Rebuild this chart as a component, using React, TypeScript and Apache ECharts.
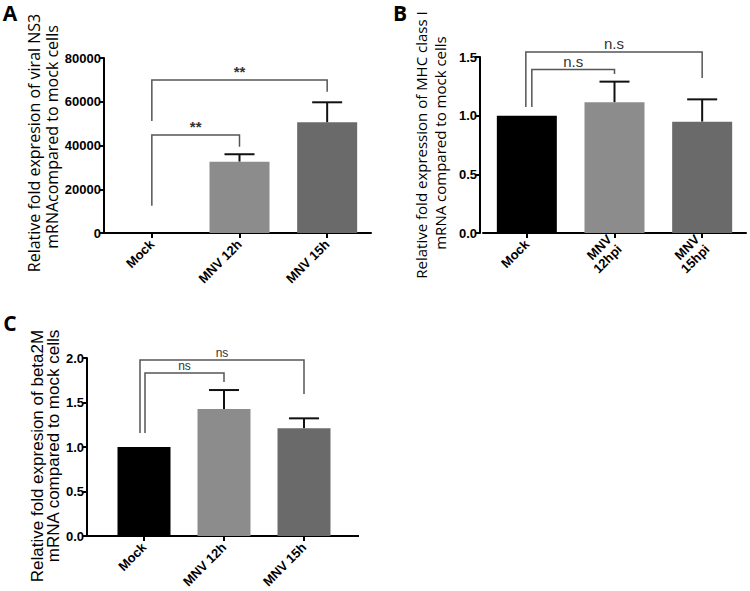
import React, { useEffect, useRef } from "react";
import * as echarts from "echarts";

// ---- Data ----
const categoriesA = ["Mock", "MNV 12h", "MNV 15h"];
const valuesA = [1, 32600, 50600];
const errorsA = [0, 3400, 9150];

const categoriesB = ["Mock", "MNV\n12hpi", "MNV\n15hpi"];
const valuesB = [1.0, 1.114, 0.949];
const errorsB = [0, 0.176, 0.19];

const categoriesC = ["Mock", "MNV 12h", "MNV 15h"];
const valuesC = [1.0, 1.427, 1.21];
const errorsC = [0, 0.213, 0.112];

const barColors = ["#000000", "#8c8c8c", "#6a6a6a"];

// brackets: [fromIndex, toIndex, topValue, leftBottomValue, rightBottomValue]
const bracketsA = [
  [0, 1, 44800, 12480, 39450],
  [0, 2, 69943, 51200, 64594],
];
const bracketLabelsA = ["**", "**"];
const bracketsB = [
  [0, 1, 1.393, 1.074, 1.355],
  [0, 2, 1.543, 1.074, 1.321],
];
const bracketLabelsB = ["n.s", "n.s"];
const bracketsC = [
  [0, 1, 1.831, 1.157, 1.73],
  [0, 2, 1.978, 1.157, 1.595],
];
const bracketLabelsC = ["ns", "ns"];

const yTicksB = ["0.0", "0.5", "1.0", "1.5"];

function barSeries(idx: number, values: number[], barWidth: number) {
  return {
    type: "bar",
    xAxisIndex: idx,
    yAxisIndex: idx,
    barWidth,
    data: values.map((v, i) => ({ value: v, itemStyle: { color: barColors[i] } })),
  };
}

function errorSeries(idx: number, values: number[], errors: number[]) {
  return {
    type: "custom",
    xAxisIndex: idx,
    yAxisIndex: idx,
    clip: false,
    data: values.map((v, i) => [i, v, errors[i]]),
    renderItem: (params: any, api: any) => {
      const i = api.value(0);
      const v = api.value(1);
      const e = api.value(2);
      if (!e) return null;
      const b = api.coord([i, v]);
      const t = api.coord([i, v + e]);
      const hw = 15;
      return {
        type: "group",
        children: [
          { type: "line", shape: { x1: b[0], y1: b[1], x2: t[0], y2: t[1] }, style: { stroke: "#111", lineWidth: 2 } },
          { type: "line", shape: { x1: t[0] - hw, y1: t[1], x2: t[0] + hw, y2: t[1] }, style: { stroke: "#111", lineWidth: 2 } },
        ],
      };
    },
  };
}

function bracketSeries(idx: number, brackets: number[][], labels: string[], leftShift: number[], font: any) {
  return {
    type: "custom",
    xAxisIndex: idx,
    yAxisIndex: idx,
    clip: false,
    data: brackets,
    renderItem: (params: any, api: any) => {
      const i = api.value(0);
      const j = api.value(1);
      const top = api.value(2);
      const lb = api.coord([i, api.value(3)]);
      const lt = api.coord([i, top]);
      const rb = api.coord([j, api.value(4)]);
      const x1 = lb[0] + leftShift[params.dataIndex];
      const x2 = rb[0];
      return {
        type: "group",
        children: [
          {
            type: "polyline",
            shape: { points: [[x1, lb[1]], [x1, lt[1]], [x2, lt[1]], [x2, rb[1]]] },
            style: { stroke: "#555", lineWidth: 1.5, fill: null },
          },
          {
            type: "text",
            style: {
              text: labels[params.dataIndex],
              x: (x1 + x2) / 2,
              y: lt[1] - 1,
              align: "center",
              verticalAlign: "bottom",
              fill: "#333",
              ...font,
            },
          },
        ],
      };
    },
  };
}

const axisLine = { show: true, lineStyle: { color: "#000", width: 2 } };
const axisTick = { show: true, length: 5, lineStyle: { color: "#000", width: 2 } };
const tickFont = { fontFamily: "Arial, 'Liberation Sans'", fontWeight: "bold", color: "#000" };

function xAxis(idx: number, cats: string[]) {
  return {
    type: "category",
    gridIndex: idx,
    data: cats,
    axisLine,
    axisTick: { ...axisTick, alignWithLabel: true },
    axisLabel: { ...tickFont, fontSize: 13, rotate: 45, margin: 9, interval: 0, lineHeight: 14 },
  };
}

function yAxis(idx: number, max: number, interval: number, offset: number, fmt: any) {
  return {
    type: "value",
    gridIndex: idx,
    min: 0,
    max,
    interval,
    offset,
    axisLine,
    axisTick,
    splitLine: { show: false },
    axisLabel: { ...tickFont, fontSize: 13, margin: 3, formatter: fmt },
  };
}

function vtext(x: number, y: number, text: string, font: any) {
  return {
    type: "text",
    x,
    y,
    rotation: Math.PI / 2,
    style: { text, align: "center", verticalAlign: "middle", fill: "#000", ...font },
  };
}

function hline(x1: number, x2: number, y: number) {
  return { type: "line", shape: { x1, y1: y, x2, y2: y }, style: { stroke: "#000", lineWidth: 2 } };
}

export default function App() {
  const ref = useRef<HTMLDivElement>(null);
  useEffect(() => {
    document.body.style.margin = "0";
    const chart = echarts.init(ref.current!, null, { renderer: "svg" });
    const titleFontA = { fontFamily: "'Open Sans'", fontSize: 16 };
    const titleFontB = { fontFamily: "'Open Sans'", fontSize: 15 };
    const titleFontC = { fontFamily: "Arial, 'Liberation Sans'", fontSize: 17 };
    const letterFont = { fontFamily: "'Open Sans'", fontWeight: "bold", fontSize: 21 };
    chart.setOption({
      animation: false,
      backgroundColor: "#fff",
      grid: [
        { left: 108, top: 58, width: 263, height: 175 },
        { left: 483, top: 57, width: 263, height: 176 },
        { left: 104, top: 358, width: 240, height: 178 },
      ],
      xAxis: [xAxis(0, categoriesA), xAxis(1, categoriesB), xAxis(2, categoriesC)],
      yAxis: [
        yAxis(0, 80000, 20000, 4, (v: number) => String(v)),
        yAxis(1, 1.5, 0.5, 3, (v: number) => yTicksB[Math.round(v / 0.5)]),
        yAxis(2, 2, 0.5, 17, (v: number) => v.toFixed(1)),
      ],
      series: [
        barSeries(0, valuesA, 60),
        errorSeries(0, valuesA, errorsA),
        bracketSeries(0, bracketsA, bracketLabelsA, [0, 0], { fontFamily: "Arial", fontSize: 15, fontWeight: "bold" }),
        barSeries(1, valuesB, 60),
        errorSeries(1, valuesB, errorsB),
        bracketSeries(1, bracketsB, bracketLabelsB, [5, -1], { fontFamily: "Arial", fontSize: 15 }),
        barSeries(2, valuesC, 53),
        errorSeries(2, valuesC, errorsC),
        bracketSeries(2, bracketsC, bracketLabelsC, [1, -4], { fontFamily: "Arial", fontSize: 12 }),
      ],
      graphic: [
        { type: "text", x: 10, y: 13, style: { text: "A", fill: "#000", align: "center", verticalAlign: "middle", ...letterFont } },
        { type: "text", x: 400, y: 13, style: { text: "B", fill: "#000", align: "center", verticalAlign: "middle", ...letterFont } },
        { type: "text", x: 10, y: 323, style: { text: "C", fill: "#000", align: "center", verticalAlign: "middle", ...letterFont } },
        vtext(34, 143, "Relative fold expresion of viral NS3", titleFontA),
        vtext(52, 137, "mRNAcompared to mock cells", titleFontA),
        vtext(421, 145, "Relative fold expression of MHC class I", titleFontB),
        vtext(440, 143, "mRNA compared to mock cells", titleFontB),
        vtext(37, 456, "Relative fold expresion of beta2M", titleFontC),
        vtext(53, 446, "mRNA compared to mock cells", titleFontC),
        hline(103, 109, 233),
        hline(86, 105, 536),
        hline(343, 359, 536),
      ],
    });
    return () => chart.dispose();
  }, []);
  return <div ref={ref} style={{ width: 750, height: 591 }} />;
}
